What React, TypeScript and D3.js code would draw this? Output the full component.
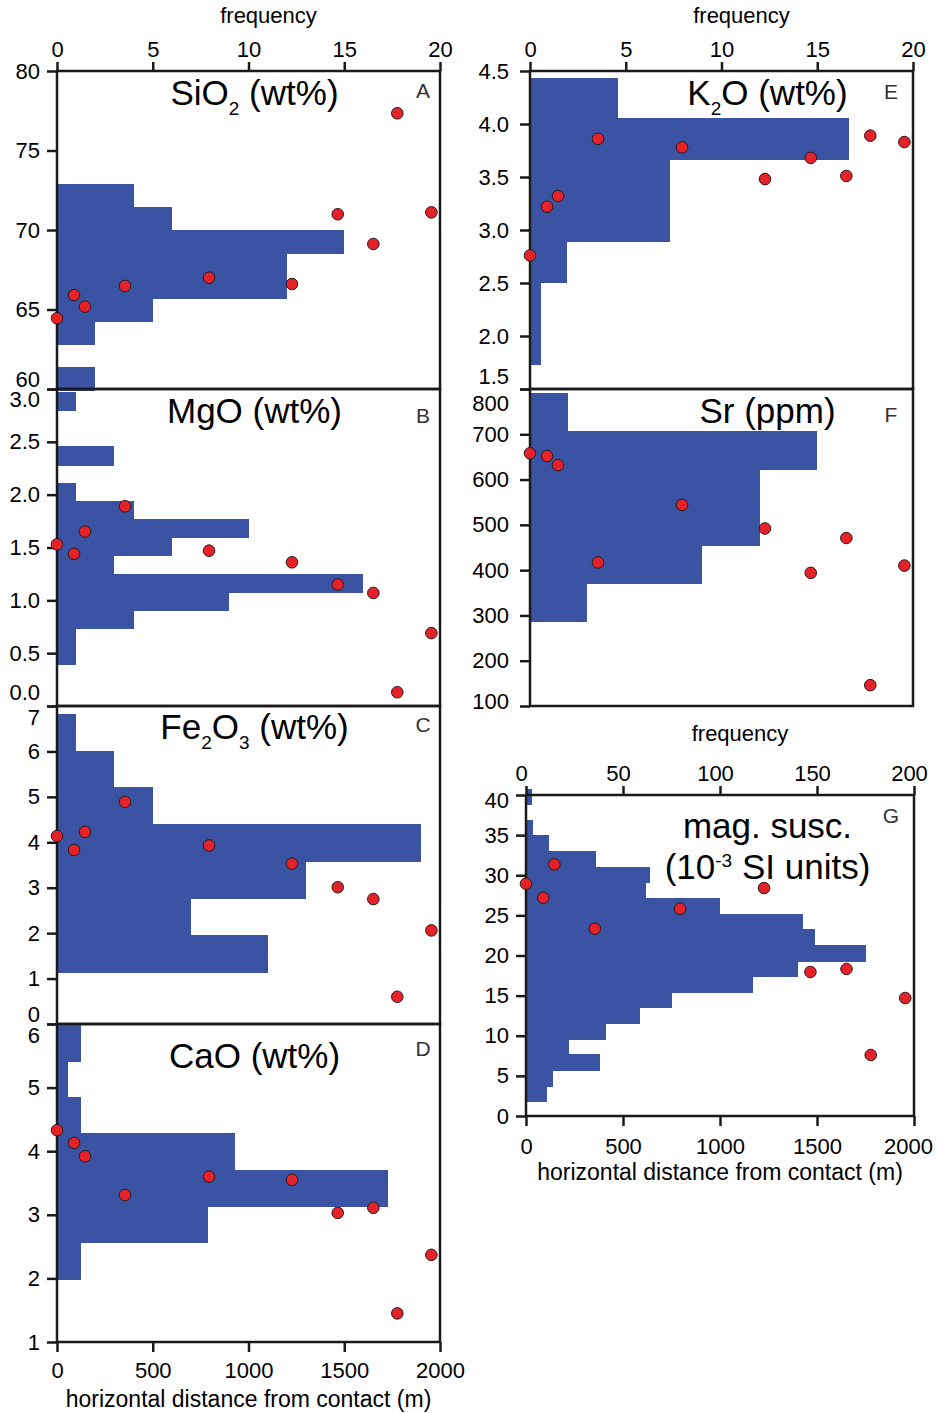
import React, { useEffect, useRef } from 'react';
import * as d3 from 'd3';

// horizontal distance of each sample from the contact (m)
const distance = [0, 89, 146, 355, 794, 1227, 1466, 1652, 1777, 1955];

// sample values, same order as distance
const sio2 = [64.45, 65.91, 65.18, 66.48, 67.0, 66.6, 70.99, 69.12, 77.34, 71.11];
const mgo = [1.53, 1.44, 1.65, 1.89, 1.47, 1.36, 1.15, 1.07, 0.13, 0.69];
const fe2o3 = [4.14, 3.83, 4.23, 4.89, 3.93, 3.53, 3.01, 2.75, 0.6, 2.06];
const cao = [4.33, 4.13, 3.92, 3.31, 3.6, 3.55, 3.03, 3.11, 1.45, 2.37];
const k2o = [2.76, 3.22, 3.32, 3.86, 3.78, 3.48, 3.68, 3.51, 3.89, 3.83];
const sr = [658, 652, 632, 417, 544, 492, 394, 471, 146, 410];
const magSusc = [28.95, 27.2, 31.36, 23.34, 25.83, 28.4, 17.95, 18.32, 7.6, 14.7];

// histograms: first bin edge, bin width, counts from the lowest bin up
const sio2Bins = { start: 59.93, width: 1.434 };
const sio2Counts = [2, 0, 2, 5, 12, 12, 15, 6, 4];
const mgoBins = { start: 0.39, width: 0.1718 };
const mgoCounts = [1, 1, 4, 9, 16, 3, 6, 10, 4, 1, 0, 3, 0, 0, 1];
const fe2o3Bins = { start: 1.13, width: 0.813 };
const fe2o3Counts = [11, 7, 13, 19, 5, 3, 1];
const caoBins = { start: 1.985, width: 0.572 };
const caoCounts = [1.25, 7.9, 17.3, 9.3, 1.25, 0.6, 1.25];
const k2oBins = { start: 1.727, width: 0.3867 };
const k2oCounts = [0.56, 0.56, 1.91, 7.29, 7.29, 16.64, 4.57];
const srBins = { start: 287.4, width: 83.6 };
const srCounts = [3, 9, 12, 12, 15, 2];
const magBins = { start: 1.78, width: 1.948 };
const magCounts = [11, 14, 38, 22, 41, 59, 75, 117, 140, 175, 149, 143, 100, 62, 64, 36, 12, 3.5, 0, 3];

// tick values
const distTicks = [0, 500, 1000, 1500, 2000];
const freqTicks = [0, 5, 10, 15, 20];
const magFreqTicks = [0, 50, 100, 150, 200];
const sio2Ticks = [60, 65, 70, 75, 80];
const mgoTicks = [0, 0.5, 1, 1.5, 2, 2.5, 3];
const fe2o3Ticks = [0, 1, 2, 3, 4, 5, 6, 7];
const caoTicks = [1, 2, 3, 4, 5, 6];
const k2oTicks = [1.5, 2, 2.5, 3, 3.5, 4, 4.5];
const srTicks = [100, 200, 300, 400, 500, 600, 700, 800];
const magTicks = [0, 5, 10, 15, 20, 25, 30, 35, 40];

// titles: [text, n | sub | sup]
const sio2Title = [['SiO', 'n'], ['2', 'sub'], [' (wt%)', 'n']];
const mgoTitle = [['MgO (wt%)', 'n']];
const fe2o3Title = [['Fe', 'n'], ['2', 'sub'], ['O', 'n'], ['3', 'sub'], [' (wt%)', 'n']];
const caoTitle = [['CaO (wt%)', 'n']];
const k2oTitle = [['K', 'n'], ['2', 'sub'], ['O (wt%)', 'n']];
const srTitle = [['Sr (ppm)', 'n']];
const magTitle1 = [['mag. susc.', 'n']];
const magTitle2 = [['(10', 'n'], ['-3', 'sup'], [' SI units)', 'n']];

const FONT = '"Liberation Sans", Arial, Helvetica, sans-serif';
const BLUE = '#3b53a3';
const RED = '#e5222a';
const INK = '#1a1a1a';
const TICK_SIZE = 22;
const TITLE_SIZE = 35;

const panels = [
  { id: 'A', titles: [[sio2Title, 105]], values: sio2, bins: sio2Bins, counts: sio2Counts,
    x0: 57, x1: 440, y0: 71, y1: 389, dom: [60, 80], ticks: sio2Ticks, fmt: d3.format('d'),
    fmax: 20, fticks: freqTicks, top: true, bottom: false, letterY: 98, lo: -10, hi: 0, pad: 7, freqY: 22.5, topDx: 0 },
  { id: 'B', titles: [[mgoTitle, 422.7]], values: mgo, bins: mgoBins, counts: mgoCounts,
    x0: 57, x1: 440, y0: 389, y1: 706, dom: [0, 3], ticks: mgoTicks, fmt: d3.format('.1f'),
    fmax: 20, top: false, bottom: false, letterY: 422.5, lo: -14, hi: 10, pad: 7 },
  { id: 'C', titles: [[fe2o3Title, 739]], values: fe2o3, bins: fe2o3Bins, counts: fe2o3Counts,
    x0: 57, x1: 440, y0: 706, y1: 1024, dom: [0, 7], ticks: fe2o3Ticks, fmt: d3.format('d'),
    fmax: 20, top: false, bottom: false, letterY: 732.3, lo: -10, hi: 11, pad: 7 },
  { id: 'D', titles: [[caoTitle, 1067.7]], values: cao, bins: caoBins, counts: caoCounts,
    x0: 57, x1: 440, y0: 1024, y1: 1342, dom: [1, 6], ticks: caoTicks, fmt: d3.format('d'),
    fmax: 20, top: false, bottom: true, letterY: 1056, lo: 0, hi: 11, pad: 7, bpad: 10, titleY: 1406.7, lastDx: 0 },
  { id: 'E', titles: [[k2oTitle, 105]], values: k2o, bins: k2oBins, counts: k2oCounts,
    x0: 530, x1: 913, y0: 71, y1: 389, dom: [1.5, 4.5], ticks: k2oTicks, fmt: d3.format('.1f'),
    fmax: 20, fticks: freqTicks, top: true, bottom: false, letterY: 99, lo: -13, hi: 0, pad: 11, freqY: 22.5, topDx: 0 },
  { id: 'F', titles: [[srTitle, 422.7]], values: sr, bins: srBins, counts: srCounts,
    x0: 530, x1: 913, y0: 389, y1: 706, dom: [100, 800], ticks: srTicks, fmt: d3.format('d'),
    fmax: 20, top: false, bottom: false, letterY: 422.3, lo: -5, hi: 14, pad: 11 },
  { id: 'G', titles: [[magTitle1, 838.3], [magTitle2, 879.3]], values: magSusc, bins: magBins, counts: magCounts,
    x0: 526, x1: 914, y0: 795, y1: 1116, dom: [0, 40], ticks: magTicks, fmt: d3.format('d'),
    fmax: 200, fticks: magFreqTicks, top: true, bottom: true, letterY: 823.3, lo: 0, hi: 5, pad: 7, bpad: 12,
    freqY: 740.8, titleY: 1180, topDx: -5, lastDx: -6 },
];

function drawTitle(g, parts, cx, y) {
  const t = g.append('text')
    .attr('x', cx).attr('y', y)
    .attr('text-anchor', 'middle')
    .attr('font-family', FONT)
    .attr('font-size', TITLE_SIZE)
    .attr('fill', '#000');
  let shift = 0;
  parts.forEach(([s, kind]) => {
    const target = kind === 'sub' ? 10 : kind === 'sup' ? -12 : 0;
    t.append('tspan')
      .attr('dy', target - shift)
      .attr('font-size', kind === 'n' ? TITLE_SIZE : 19)
      .text(s);
    shift = target;
  });
}

function styleAxis(a) {
  a.select('.domain').remove();
  a.attr('font-family', FONT).attr('font-size', TICK_SIZE);
  a.selectAll('line').attr('stroke', INK).attr('stroke-width', 2.5);
  a.selectAll('text').attr('fill', '#000');
}

export default function App() {
  const ref = useRef(null);

  useEffect(() => {
    const svg = d3.select(ref.current);
    svg.selectAll('*').remove();

    panels.forEach((p) => {
      const g = svg.append('g');
      const x = d3.scaleLinear().domain([0, 2000]).range([p.x0, p.x1]);
      const f = d3.scaleLinear().domain([0, p.fmax]).range([p.x0, p.x1]);
      const y = d3.scaleLinear().domain(p.dom).range([p.y1, p.y0]);

      const bins = p.counts.map((n, i) => ({
        lo: p.bins.start + i * p.bins.width,
        hi: p.bins.start + (i + 1) * p.bins.width,
        n,
      })).filter((b) => b.n > 0);

      // histogram bars (slight overlap so neighbours don't show seams)
      g.append('g').selectAll('rect')
        .data(bins)
        .join('rect')
        .attr('x', f(0))
        .attr('y', (d) => y(d.hi) - 0.5)
        .attr('width', (d) => f(d.n) - f(0))
        .attr('height', (d) => y(d.lo) - y(d.hi) + 1)
        .attr('fill', BLUE)
        .attr('shape-rendering', 'crispEdges');

      // frame
      g.append('rect')
        .attr('x', p.x0).attr('y', p.y0)
        .attr('width', p.x1 - p.x0).attr('height', p.y1 - p.y0)
        .attr('fill', 'none')
        .attr('stroke', INK)
        .attr('stroke-width', 2.5);

      // value axis
      const ya = g.append('g')
        .attr('transform', `translate(${p.x0},0)`)
        .call(d3.axisLeft(y).tickValues(p.ticks).tickFormat(p.fmt).tickSize(10).tickPadding(p.pad));
      styleAxis(ya);
      const lowT = p.dom[0];
      const highT = p.dom[1];
      ya.selectAll('.tick text')
        .attr('transform', (d) => (d === lowT ? `translate(0,${p.lo})` : d === highT ? `translate(0,${p.hi})` : null));

      // frequency axis on top
      if (p.top) {
        const fa = g.append('g')
          .attr('transform', `translate(0,${p.y0})`)
          .call(d3.axisTop(f).tickValues(p.fticks).tickSize(9).tickPadding(5));
        styleAxis(fa);
        fa.selectAll('.tick text').attr('dx', p.topDx);
        g.append('text')
          .attr('x', (p.x0 + p.x1) / 2 + 20)
          .attr('y', p.freqY)
          .attr('text-anchor', 'middle')
          .attr('font-family', FONT)
          .attr('font-size', 22)
          .text('frequency');
      }

      // distance axis at the bottom
      if (p.bottom) {
        const xa = g.append('g')
          .attr('transform', `translate(0,${p.y1})`)
          .call(d3.axisBottom(x).tickValues(distTicks).tickFormat(d3.format('d')).tickSize(10).tickPadding(p.bpad));
        styleAxis(xa);
        xa.selectAll('.tick text').attr('dx', (d) => (d === 2000 ? p.lastDx : 0));
        g.append('text')
          .attr('x', (p.x0 + p.x1) / 2)
          .attr('y', p.titleY)
          .attr('text-anchor', 'middle')
          .attr('font-family', FONT)
          .attr('font-size', 23)
          .text('horizontal distance from contact (m)');
      }

      // samples
      g.append('g').selectAll('circle')
        .data(p.values)
        .join('circle')
        .attr('cx', (d, i) => x(distance[i]))
        .attr('cy', (d) => y(d))
        .attr('r', 5.8)
        .attr('fill', RED)
        .attr('stroke', '#2a1a1a')
        .attr('stroke-width', 1);

      // titles
      const cx = p.x0 < 300 ? 254.5 : 767.5;
      p.titles.forEach(([parts, ty]) => drawTitle(g, parts, cx, ty));

      // panel letter
      g.append('text')
        .attr('x', p.x0 < 300 ? 423 : 891)
        .attr('y', p.letterY)
        .attr('text-anchor', 'middle')
        .attr('font-family', FONT)
        .attr('font-size', 21)
        .attr('fill', '#333')
        .text(p.id);
    });
  }, []);

  return (
    <svg
      ref={ref}
      width={937}
      height={1413}
      style={{ position: 'absolute', left: 0, top: 0, background: '#fff' }}
    />
  );
}
